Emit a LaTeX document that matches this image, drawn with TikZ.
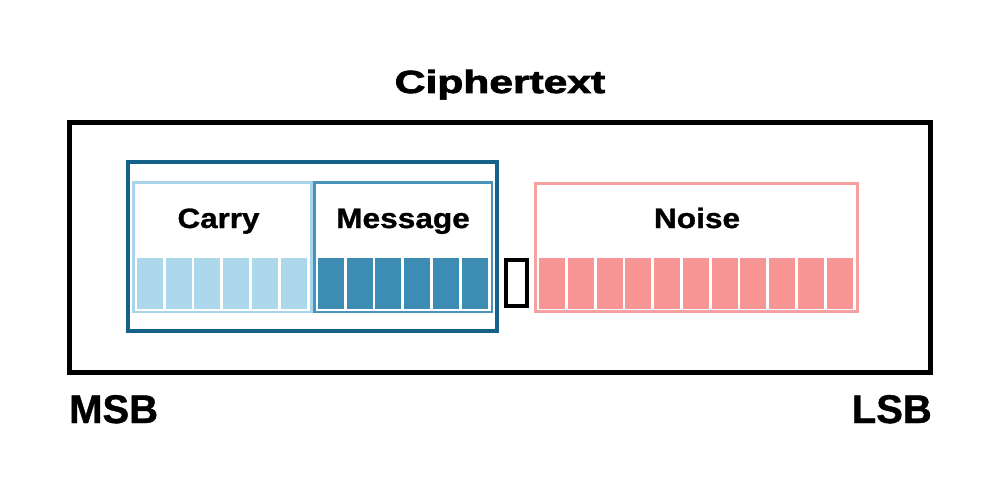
\documentclass[tikz,border=0pt]{standalone}
\usepackage{fontspec}
\setmainfont{Liberation Sans}
\newfontfamily\heavyfont{Liberation Sans Bold}[FakeBold=2.2]
\newfontfamily\semiheavyfont{Liberation Sans Bold}[FakeBold=1]
\definecolor{tealdark}{HTML}{14618A}
\definecolor{carryline}{HTML}{A9D5EA}
\definecolor{carryfill}{HTML}{ADD8EB}
\definecolor{msgline}{HTML}{4A93BC}
\definecolor{msgfill}{HTML}{3C8CB4}
\definecolor{noiseline}{HTML}{F7A0A0}
\definecolor{noisefill}{HTML}{F79494}
\tikzset{
  lbl/.style={anchor=base,inner sep=0pt,font=\fontsize{28}{30}\selectfont\semiheavyfont},
  big/.style={inner sep=0pt,font=\fontsize{40}{44}\selectfont\semiheavyfont},
}
\begin{document}
\begin{tikzpicture}[x=1pt,y=-1pt]
\useasboundingbox[fill=white] (0,0) rectangle (1000,500);
% outer box
\draw[line width=5pt,black] (69,122) rectangle (930,372);
% teal group
\draw[line width=4pt,tealdark] (128,162) rectangle (497,331);
% sub-boxes
\draw[line width=2.5pt,carryline] (133.5,182.5) rectangle (311.5,312);
\draw[line width=2.5pt,msgline] (314.5,182.5) rectangle (492,312);
\draw[line width=2.5pt,noiseline] (535.5,183.5) rectangle (857.5,311.5);
% cells
\foreach \i in {0,...,5} {
  \fill[carryfill] ({137+\i*28.7},258) rectangle ++(26,51);
  \fill[msgfill] ({318+\i*28.7},258) rectangle ++(26,51);
}
\foreach \i in {0,...,10} {
  \fill[noisefill] ({539+\i*28.75},258) rectangle ++(26,51);
}
% padding bit
\draw[line width=4.3pt,black] (506.2,260.2) rectangle (526.8,306);
% labels
\node[lbl] (carry) at (218.5,228) {\scalebox{1.12}[1]{Carry}};
\node[lbl] (message) at (403,228) {\scalebox{1.13}[1]{Message}};
\node[lbl] (noise) at (697,228) {\scalebox{1.13}[1]{Noise}};
\node[anchor=base,inner sep=0pt,font=\fontsize{32}{34}\selectfont\heavyfont] (title) at (500,93) {\scalebox{1.33}[1]{Ciphertext}};
\node[big,anchor=base west] (msb) at (69,423) {MSB};
\node[big,anchor=base east] (lsb) at (932,423) {LSB};
\end{tikzpicture}
\end{document}
